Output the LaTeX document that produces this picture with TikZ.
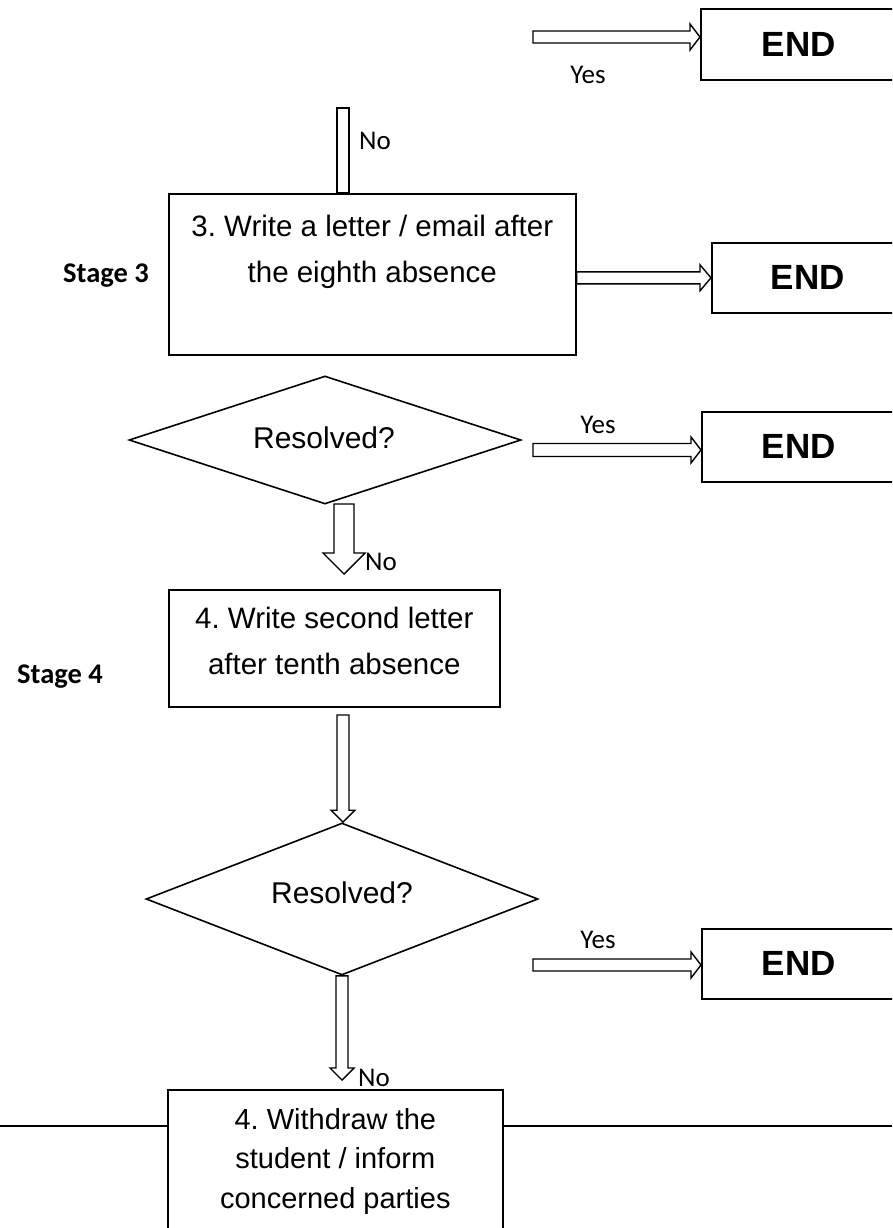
\documentclass[tikz,border=0pt]{standalone}
\usepackage{fontspec}
\setmainfont{Liberation Sans}
\newfontfamily\calibri{Carlito}
\usetikzlibrary{calc,shapes.geometric}
\frenchspacing
\tikzset{
  x=1pt,y=-1pt,
  ln/.style={draw=black,line width=1.6pt},
  blk/.style={draw=black,line width=1.4pt,fill=white,line join=miter},
  endbox/.style={ln,rectangle,inner sep=0pt,anchor=north west,font=\fontsize{35}{40}\selectfont\bfseries},
  procbox/.style={ln,rectangle,inner sep=0pt,anchor=north west},
  boxtext/.style={align=center,font=\fontsize{29.5}{46}\selectfont,inner sep=0pt},
  lbl/.style={font=\calibri\fontsize{27}{30}\selectfont,inner sep=0pt},
  stagelbl/.style={font=\calibri\bfseries\fontsize{28.5}{30}\selectfont,inner sep=0pt},
  decision/.style={ln,diamond,inner sep=0pt,font=\fontsize{30}{34}\selectfont},
}
% horizontal block arrow: start, end, half body, half head, head length
\newcommand\harrow[5]{%
  \draw[blk] let \p1=(#1), \p2=(#2) in
    (\x1,\y1+#3) -- (\x2-#5,\y1+#3) -- (\x2-#5,\y1+#4) -- (\x2,\y1)
    -- (\x2-#5,\y1-#4) -- (\x2-#5,\y1-#3) -- (\x1,\y1-#3) -- cycle;}
% vertical block arrow (downwards)
\newcommand\varrow[5]{%
  \draw[blk] let \p1=(#1), \p2=(#2) in
    (\x1-#3,\y1) -- (\x1-#3,\y2+#5) -- (\x1-#4,\y2+#5) -- (\x1,\y2)
    -- (\x1+#4,\y2+#5) -- (\x1+#3,\y2+#5) -- (\x1+#3,\y1) -- cycle;}
\begin{document}
\begin{tikzpicture}
\useasboundingbox (0,0) rectangle (892,1228);
\clip (0,0) rectangle (892,1228);

% END boxes
\node[endbox,minimum width=196pt,minimum height=71pt,text width=192pt,align=center] (end1) at (700,8) {END};
\node[endbox,minimum width=192pt,minimum height=70pt,text width=192pt,align=center] (end2) at (711,242) {END};
\node[endbox,minimum width=194pt,minimum height=70pt,text width=192pt,align=center] (end3) at (701,411) {END};
\node[endbox,minimum width=194pt,minimum height=70pt,text width=192pt,align=center] (end4) at (701,928) {END};

% Stage 3 box
\node[procbox,minimum width=407pt,minimum height=161pt] (box3) at (168,193) {};
\node[boxtext,anchor=north] (t3) at ($(box3.north)+(0,22)$) {3. Write a letter / email after\\the eighth absence};
\node[stagelbl] (s3) at (106,276) {Stage 3};

% top connector
\coordinate (topin) at (343,108);
\draw[blk] let \p1=(topin), \p2=(box3.north) in
  (\x1-6,\y1) rectangle (\x1+6,\y2);
\node[lbl,anchor=west] (no0) at (359,141) {No};

\coordinate (a1s) at (533,37);
\harrow{a1s}{a1s -| end1.west}{6}{13}{10}
\node[lbl] (yes1) at (588,75) {Yes};

\harrow{box3.east |- end2.west}{end2.west}{6}{13}{11}

% Diamond 1
\node[decision,minimum width=392pt,minimum height=128pt] (d1) at (325,440) {};
\node[font=\fontsize{30}{34}\selectfont,inner sep=0pt] (d1t) at (324,438) {Resolved?};
\coordinate (a3s) at (533,450);
\harrow{a3s}{a3s -| end3.west}{6.5}{13}{10}
\node[lbl] (yes3) at (598,425) {Yes};

% Stage 4 box
\node[procbox,minimum width=331pt,minimum height=117pt] (box4) at (168,589) {};
\node[boxtext,anchor=north] (t4) at ($(box4.north)+(0,18)$) {4. Write second letter\\after tenth absence};
\node[stagelbl] (s4) at (60,677) {Stage 4};

\coordinate (d1b) at (344,504);
\varrow{d1b}{344,574}{10}{21}{21}
\node[lbl,anchor=west] (no1) at (365,562) {No};

% Diamond 2
\node[decision,minimum width=392pt,minimum height=152pt] (d2) at (342,899) {};
\node[font=\fontsize{30}{34}\selectfont,inner sep=0pt] (d2t) at (342,893) {Resolved?};
\coordinate (a2s) at (343,715);
\varrow{a2s}{d2.north}{6}{12}{12}
\coordinate (a4s) at (533,965);
\harrow{a4s}{a4s -| end4.west}{6}{13}{10}
\node[lbl] (yes4) at (598,940) {Yes};

% bottom box
\node[procbox,minimum width=335pt,minimum height=200pt] (box5) at (167,1089) {};
\node[boxtext,anchor=north,font=\fontsize{29}{39.5}\selectfont] (t5) at ($(box5.north)+(0,19)$) {4. Withdraw the\\student / inform\\concerned parties};
\varrow{d2.south}{343,1080}{6}{12}{12}
\node[lbl,anchor=west] (no2) at (358,1078) {No};
\coordinate (lL) at (0,1126);
\coordinate (lR) at (892,1126);
\draw[ln] (lL) -- (lL -| box5.west);
\draw[ln] (lR -| box5.east) -- (lR);
\end{tikzpicture}
\end{document}
